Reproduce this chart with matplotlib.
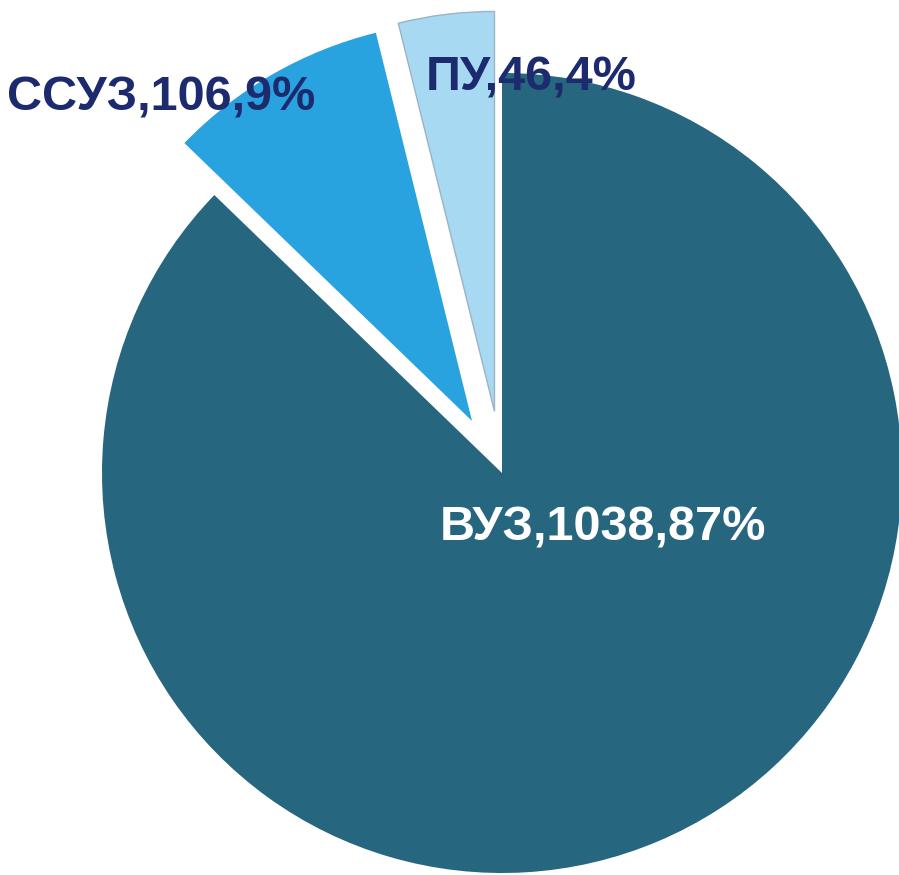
import matplotlib
matplotlib.use("Agg")
import matplotlib.pyplot as plt

categories = ["ВУЗ", "ССУЗ", "ПУ"]
values = [1038, 106, 46]
colors = ["#27667f", "#29a2e0", "#a8d9f2"]
explode = [0.0, 0.15, 0.155]

W, H = 899, 875
fig = plt.figure(figsize=(W / 100, H / 100), dpi=100)
ax = fig.add_axes([0, 0, 1, 1])

cx, cy, R = 502, 473, 400  # pixel centre / radius

def px(x, y):
    return ((x - cx) / R, (cy - y) / R)

wedges, _ = ax.pie(values, colors=colors, explode=explode, startangle=90,
                   counterclock=False, radius=1.0,
                   wedgeprops=dict(linewidth=0))
wedges[2].set_edgecolor("#9ab4c4")
wedges[2].set_linewidth(1.0)

x0, _ = px(0, 0)
x1, _ = px(W, 0)
_, y0 = px(0, H)
_, y1 = px(0, 0)
ax.set_xlim(x0, x1)
ax.set_ylim(y0, y1)
ax.set_aspect("auto")
ax.axis("off")

total = sum(values)
labels = [f"{c},{v},{round(v / total * 100)}%" for c, v in zip(categories, values)]
label_pos = [(603, 540), (161, 110), (531, 90)]
label_colors = ["white", "#1c2a6e", "#1c2a6e"]
for lab, (lx, ly), col in zip(labels, label_pos, label_colors):
    x, y = px(lx, ly)
    ax.text(x, y, lab, ha="center", va="baseline", fontsize=35,
            fontweight="bold", family=["Liberation Sans", "DejaVu Sans"],
            color=col)

fig.savefig("out.png", dpi=100, facecolor="white")
